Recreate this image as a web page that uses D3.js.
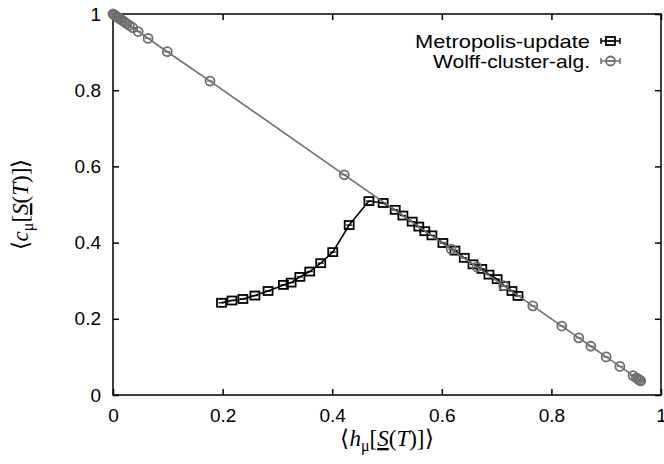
<!DOCTYPE html>
<html><head><meta charset="utf-8">
<script src="https://cdn.jsdelivr.net/npm/d3@7"></script>
<style>body{margin:0;background:#fff}svg{display:block}</style>
</head><body>
<svg id="c" width="664" height="464"></svg>
<script>
const metroX = [0.198,0.217,0.237,0.259,0.283,0.311,0.325,0.341,0.359,0.379,0.401,0.431,0.467,0.493,0.515,0.529,0.546,0.558,0.569,0.582,0.602,0.624,0.641,0.657,0.673,0.686,0.701,0.715,0.728,0.739];
const metroY = [0.242,0.248,0.252,0.261,0.273,0.289,0.295,0.310,0.324,0.346,0.375,0.446,0.509,0.504,0.486,0.471,0.455,0.442,0.430,0.419,0.399,0.379,0.360,0.343,0.331,0.316,0.304,0.286,0.273,0.260];
const wolffX = [0.000,0.002,0.004,0.007,0.010,0.013,0.017,0.021,0.025,0.030,0.036,0.046,0.064,0.099,0.177,0.422,0.617,0.664,0.713,0.766,0.819,0.850,0.872,0.900,0.925,0.949,0.955,0.958,0.961,0.963];
const wolffY = [1.000,0.998,0.996,0.993,0.990,0.987,0.983,0.979,0.975,0.970,0.964,0.954,0.936,0.901,0.824,0.578,0.383,0.336,0.287,0.234,0.181,0.150,0.128,0.100,0.075,0.051,0.045,0.042,0.039,0.037];
const xTicks = [0,0.2,0.4,0.6,0.8,1];
const yTicks = [0,0.2,0.4,0.6,0.8,1];
const xTickLabels = ["0","0.2","0.4","0.6","0.8","1"];
const yTickLabels = ["0","0.2","0.4","0.6","0.8","1"];
const seriesNames = ["Metropolis-update","Wolff-cluster-alg."];

const svg = d3.select("#c");
const L=113,R=661,T=14,B=395;
const x = d3.scaleLinear().domain([0,1]).range([L,R]);
const y = d3.scaleLinear().domain([0,1]).range([B,T]);
const font = "'Liberation Sans', Arial, sans-serif";
const serif = "'Liberation Serif','Times New Roman',serif";
const metroCol = "#000", wolffCol = "#6e6e6e";

// ticks (inside, mirrored)
const tl = 6;
const axB = svg.append("g").attr("transform",`translate(0,${B})`).call(d3.axisBottom(x).tickValues(xTicks).tickSize(-tl).tickPadding(14).tickFormat((d,i)=>xTickLabels[i]));
const axT = svg.append("g").attr("transform",`translate(0,${T})`).call(d3.axisTop(x).tickValues(xTicks).tickSize(-tl).tickFormat(""));
const axL = svg.append("g").attr("transform",`translate(${L},0)`).call(d3.axisLeft(y).tickValues(yTicks).tickSize(-tl).tickPadding(12).tickFormat((d,i)=>yTickLabels[i]));
const axR = svg.append("g").attr("transform",`translate(${R},0)`).call(d3.axisRight(y).tickValues(yTicks).tickSize(-tl).tickFormat(""));
[axB,axT,axL,axR].forEach(a=>{
  a.select(".domain").remove();
  a.selectAll("line").attr("stroke","#000").attr("stroke-width",1.5);
  a.selectAll("text").attr("font-family",font).attr("font-size",19).attr("fill","#000");
});
axB.selectAll("text").attr("dy","0.71em");
// frame
svg.append("rect").attr("x",L).attr("y",T).attr("width",R-L).attr("height",B-T)
  .attr("fill","none").attr("stroke","#000").attr("stroke-width",1.5);

const line = d3.line().x(d=>x(d[0])).y(d=>y(d[1]));
const metro = metroX.map((v,i)=>[v,metroY[i]]);
const wolff = wolffX.map((v,i)=>[v,wolffY[i]]);

function drawSquare(g,cx,cy,col){
  g.append("rect").attr("x",cx-4.5).attr("y",cy-4).attr("width",9).attr("height",8)
    .attr("fill","none").attr("stroke",col).attr("stroke-width",1.8);
  g.append("line").attr("x1",cx-3).attr("x2",cx+3).attr("y1",cy).attr("y2",cy).attr("stroke",col).attr("stroke-width",1.3);
}
function drawCircle(g,cx,cy,col){
  g.append("circle").attr("cx",cx).attr("cy",cy).attr("r",4.5)
    .attr("fill","none").attr("stroke",col).attr("stroke-width",1.8);
  g.append("line").attr("x1",cx-3).attr("x2",cx+3).attr("y1",cy).attr("y2",cy).attr("stroke",col).attr("stroke-width",1.3);
}

const gM = svg.append("g");
gM.append("path").attr("d",line(metro)).attr("fill","none").attr("stroke",metroCol).attr("stroke-width",1.6);
metro.forEach(d=>drawSquare(gM,x(d[0]),y(d[1]),metroCol));

const gW = svg.append("g");
gW.append("path").attr("d",line(wolff)).attr("fill","none").attr("stroke",wolffCol).attr("stroke-width",1.6);
wolff.forEach(d=>drawCircle(gW,x(d[0]),y(d[1]),wolffCol));

// legend
const lg = svg.append("g");
const legW = [175,157];
[[41,metroCol,drawSquare],[61,wolffCol,drawCircle]].forEach((s,i)=>{
  const yy=s[0], col=s[1];
  lg.append("text").attr("x",590).attr("y",yy).attr("dy","0.35em").attr("text-anchor","end")
    .attr("font-family",font).attr("font-size",19)
    .attr("textLength",legW[i]).attr("lengthAdjust","spacingAndGlyphs").text(seriesNames[i]);
  lg.append("line").attr("x1",601).attr("x2",620).attr("y1",yy).attr("y2",yy).attr("stroke",col).attr("stroke-width",1.5);
  lg.append("line").attr("x1",601).attr("x2",601).attr("y1",yy-3).attr("y2",yy+3).attr("stroke",col).attr("stroke-width",1.5);
  lg.append("line").attr("x1",620).attr("x2",620).attr("y1",yy-3).attr("y2",yy+3).attr("stroke",col).attr("stroke-width",1.5);
  s[2](lg,610.5,yy,col);
});

// axis labels
function mathLabel(t,letter){
  t.attr("font-family",serif).attr("font-size",23).attr("fill","#000");
  t.append("tspan").text("\u27E8");
  t.append("tspan").attr("font-style","italic").text(letter);
  t.append("tspan").attr("font-size",16).attr("dy",5).text("\u03BC");
  t.append("tspan").attr("dy",-5).text("[");
  t.append("tspan").attr("font-style","italic").attr("text-decoration","underline").text("S");
  t.append("tspan").text("(");
  t.append("tspan").attr("font-style","italic").text("T");
  t.append("tspan").text(")]\u27E9");
}
const xl = svg.append("text").attr("x",(L+R)/2).attr("y",446).attr("text-anchor","middle");
mathLabel(xl,"h");
const yl = svg.append("text").attr("transform",`translate(28,${(T+B)/2}) rotate(-90)`).attr("text-anchor","middle");
mathLabel(yl,"c");
</script>
</body></html>
